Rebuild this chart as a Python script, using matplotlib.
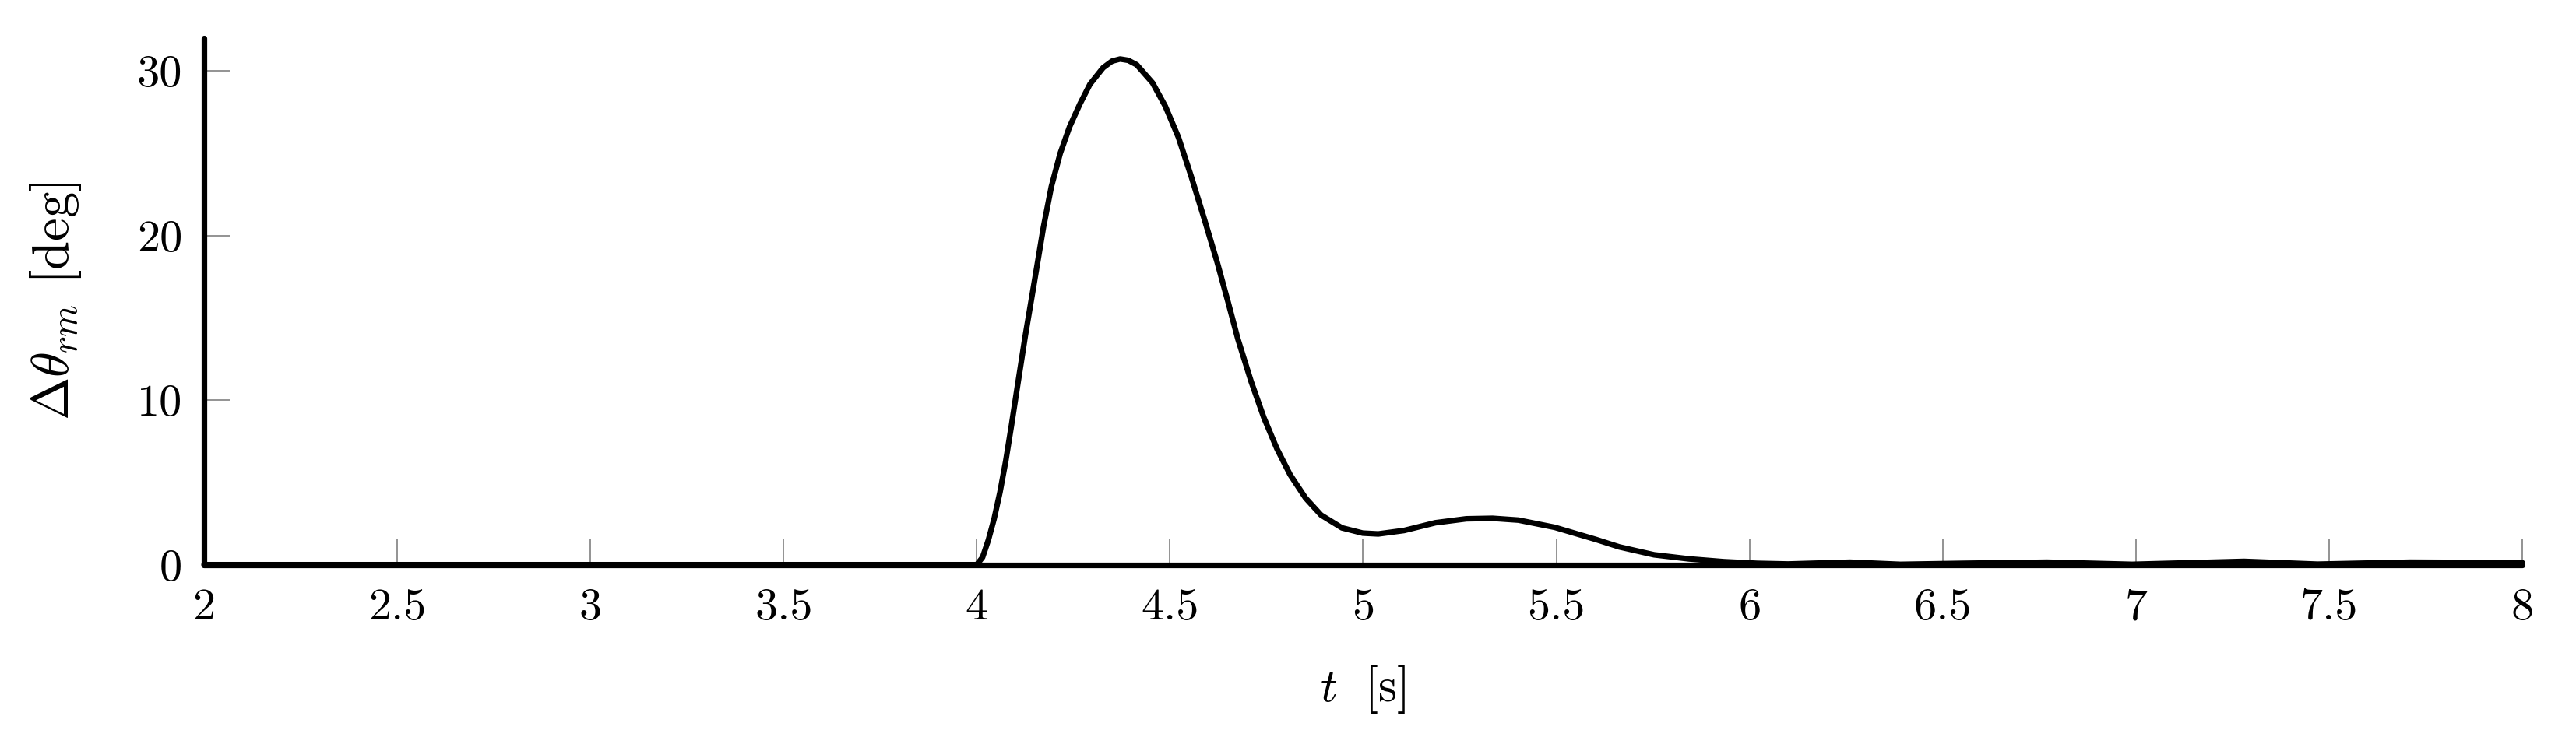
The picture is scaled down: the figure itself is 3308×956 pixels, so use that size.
import matplotlib
matplotlib.use("Agg")
import matplotlib.pyplot as plt

plt.rcParams['font.family'] = 'serif'
plt.rcParams['font.serif'] = ['cmr10']
plt.rcParams['mathtext.fontset'] = 'cm'
plt.rcParams['axes.formatter.use_mathtext'] = True

# data
t = [2.0, 4.0, 4.015, 4.03, 4.045, 4.06, 4.075, 4.09, 4.105, 4.1255, 4.152,
     4.1725, 4.193, 4.216, 4.24, 4.267, 4.293, 4.327, 4.35, 4.371, 4.392,
     4.414, 4.455, 4.488, 4.522, 4.555, 4.589, 4.622, 4.65, 4.676, 4.71,
     4.743, 4.777, 4.811, 4.851, 4.891, 4.945, 4.999, 5.039, 5.106, 5.187,
     5.267, 5.335, 5.402, 5.496, 5.603, 5.663, 5.753, 5.844, 5.934, 6.02,
     6.1, 6.26, 6.39, 6.55, 6.77, 6.99, 7.28, 7.47, 7.71, 8.0]
dtheta = [0.0, 0.0, 0.45, 1.5, 2.8, 4.4, 6.3, 8.5, 10.8, 13.9, 17.6,
          20.5, 22.97, 25.0, 26.6, 28.0, 29.2, 30.2, 30.6, 30.73, 30.65,
          30.38, 29.28, 27.86, 25.97, 23.6, 21.0, 18.4, 16.0, 13.7, 11.14,
          8.94, 7.04, 5.47, 4.05, 3.02, 2.24, 1.92, 1.87, 2.08, 2.55,
          2.79, 2.82, 2.71, 2.27, 1.53, 1.08, 0.6, 0.35, 0.18, 0.08,
          0.04, 0.15, 0.02, 0.08, 0.15, 0.02, 0.2, 0.03, 0.15, 0.12]

xticks = [2, 2.5, 3, 3.5, 4, 4.5, 5, 5.5, 6, 6.5, 7, 7.5, 8]
xticklabels = ["2", "2.5", "3", "3.5", "4", "4.5", "5", "5.5", "6", "6.5", "7", "7.5", "8"]
yticks = [0, 10, 20, 30]
yticklabels = ["0", "10", "20", "30"]

W, H, DPI = 3308, 956, 200
fig = plt.figure(figsize=(W / DPI, H / DPI), dpi=DPI)
ax = fig.add_axes([262 / W, 1 - 725.6 / H, (3239 - 262) / W, (725.6 - 49) / H])

ax.plot(t, dtheta, color='black', lw=2.6, solid_joinstyle='round',
        solid_capstyle='round', clip_on=False, zorder=5)

ax.set_xlim(2, 8)
ax.set_ylim(0, 32)
ax.set_xticks(xticks)
ax.set_xticklabels(xticklabels)
ax.set_yticks(yticks)
ax.set_yticklabels(yticklabels)

for s in ['top', 'right']:
    ax.spines[s].set_visible(False)
for s in ['left', 'bottom']:
    ax.spines[s].set_linewidth(2.6)
    ax.spines[s].set_color('black')
    ax.spines[s].set_capstyle('round')

ax.tick_params(axis='both', direction='in', length=12, width=0.6,
               color='#808080', labelsize=21, pad=10)
ax.tick_params(axis='x', pad=11)

ax.set_xlabel(r"$t\;$ [s]", fontsize=22)
ax.set_ylabel(r"$\Delta\theta_{rm}$ [deg]", fontsize=24)
ax.xaxis.set_label_coords(0.5, -0.187)
ax.yaxis.set_label_coords(-0.052, 0.5)

fig.savefig("out.png", dpi=DPI)
